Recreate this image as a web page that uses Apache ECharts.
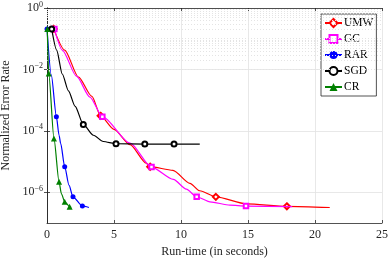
<!DOCTYPE html>
<html><head><meta charset="utf-8">
<script src="https://cdn.jsdelivr.net/npm/echarts@6/dist/echarts.min.js"></script>
<style>html,body{margin:0;padding:0;background:#fff}#c{width:390px;height:261px}</style>
</head><body><div id="c"></div>
<script>
// ---- data ----
const seriesNames = ['UMW', 'GC', 'RAR', 'SGD', 'CR'];

const umwTime = [0.5, 1.32, 2.35, 3.35, 4.0, 5.0, 6.2, 7.4, 7.7, 9.4, 10.67, 11.4, 12.6, 14.9, 17.9, 21.1];
const umwErr  = [0.209, 0.0427, 0.00562, 0.00132, 3.09e-4, 1.12e-4, 3.55e-5, 8.9e-6, 6.8e-6, 5.2e-6, 1.95e-6, 1.12e-6, 7.1e-7, 4.2e-7, 3.5e-7, 3.2e-7];
const umwMarks = [0, 4, 8, 12, 14];

const gcTime = [0.55, 1.14, 2.2, 3.2, 4.13, 6.2, 7.8, 9.43, 10.4, 11.17, 12.16, 13.66, 14.85, 18.3];
const gcErr  = [0.209, 0.0427, 0.00603, 0.00126, 2.9e-4, 3.98e-5, 6.6e-6, 2.63e-6, 1.26e-6, 7.1e-7, 4.9e-7, 3.8e-7, 3.55e-7, 3.4e-7];
const gcMarks = [0, 4, 6, 9, 12];

const rarTime = [0, 0.32, 0.7, 0.9, 1.02, 1.32, 1.64, 1.94, 2.64, 3.13];
const rarErr  = [0.209, 6.6e-3, 2.9e-4, 7.2e-5, 3.9e-5, 6.8e-6, 1.7e-6, 7.1e-7, 3.6e-7, 3.2e-7];
const rarMarks = [0, 2, 5, 7, 8];

const sgdTime = [0.35, 0.72, 1.14, 1.6, 2.1, 2.71, 3.46, 4.2, 5.15, 7.3, 9.48, 11.4];
const sgdErr  = [0.209, 0.0427, 7.1e-3, 2.0e-3, 6.3e-4, 1.62e-4, 7.2e-5, 4.5e-5, 3.8e-5, 3.7e-5, 3.7e-5, 3.7e-5];
const sgdMarks = [0, 5, 8, 9, 10];

const crTime = [0.02, 0.13, 0.52, 0.9, 1.07, 1.32, 1.69, 1.8];
const crErr  = [0.209, 7.4e-3, 5.6e-5, 2.2e-6, 9.1e-7, 4.9e-7, 3.4e-7, 3.2e-7];
const crMarks = [0, 1, 2, 3, 5, 6];

const xTicks = [0, 5, 10, 15, 20, 25];
const yTicks = [1, 1e-2, 1e-4, 1e-6];

// ---- build ----
const FONT = '"Liberation Serif", "DejaVu Serif", serif';
function build(t, e, marks) {
  return t.map((x, i) => marks.includes(i) ? [x, e[i]] : {value: [x, e[i]], symbol: 'none'});
}
const styles = [
  {color: '#ff0000', symbol: 'emptyDiamond', size: 6},
  {color: '#ff00ff', symbol: 'emptySquare', size: 4.5},
  {color: '#0000ff', symbol: 'circle', size: 5},
  {color: '#000000', symbol: 'emptyCircle', size: 5},
  {color: '#008000', symbol: 'triangle', size: 6}
];
const datas = [
  build(umwTime, umwErr, umwMarks),
  build(gcTime, gcErr, gcMarks),
  build(rarTime, rarErr, rarMarks),
  build(sgdTime, sgdErr, sgdMarks),
  build(crTime, crErr, crMarks)
];

// minor log grid lines
const minorLines = [];
for (let k = -7; k <= 0; k++) {
  for (let m = 1; m <= 9; m++) {
    const v = m * Math.pow(10, k);
    if (v >= 1 || (k === -7 && m === 1)) continue;
    if (m === 1 && k % 2 === 0) continue;
    minorLines.push({yAxis: v});
  }
}

function yLabel(v) {
  const ex = Math.round(Math.log10(v));
  return '{b|10}{e|' + String(ex).replace('-', '\u2212') + '}';
}

const series = seriesNames.map((n, i) => ({
  name: n, type: 'line', data: datas[i],
  symbol: styles[i].symbol, symbolSize: styles[i].size,
  showAllSymbol: true,
  smooth: 0.25, smoothMonotone: 'x',
  color: styles[i].color,
  lineStyle: {width: 1.2, color: styles[i].color},
  itemStyle: {color: styles[i].color, borderWidth: 1},
  z: 5 + i, animation: false
}));
series.push({
  type: 'line', data: [], silent: true, z: 1, animation: false,
  markLine: {silent: true, symbol: 'none', label: {show: false}, animation: false,
    lineStyle: {color: '#e4e4e4', type: [1, 2], width: 1}, data: minorLines}
});

const chart = echarts.init(document.getElementById('c'), null, {renderer: 'canvas'});
const axLine = {show: true, lineStyle: {color: '#262626', width: 0.8}};
const tick = (vals) => ({show: true, inside: true, length: 3, customValues: vals, lineStyle: {color: '#262626', width: 0.8}});
chart.setOption({
  animation: false,
  backgroundColor: '#fff',
  grid: {left: 47, right: 8, top: 8, bottom: 38, show: false, containLabel: false, outerBoundsMode: 'none'},
  legend: {
    orient: 'vertical', left: 321, top: 14,
    backgroundColor: '#fff', borderColor: '#262626', borderWidth: 0.8,
    padding: [3, 3, 3, 3], itemGap: 4, itemWidth: 17, itemHeight: 10,
    textStyle: {fontFamily: FONT, fontSize: 11.5, color: '#000', padding: [0, 0, 0, -3]},
    data: seriesNames
  },
  xAxis: [
    {type: 'value', min: 0, max: 25, interval: 5, position: 'bottom',
      name: 'Run-time (in seconds)', nameLocation: 'middle', nameGap: 22,
      nameTextStyle: {fontFamily: FONT, fontSize: 12, color: '#262626'},
      axisLine: axLine, axisTick: tick(xTicks),
      axisLabel: {fontFamily: FONT, fontSize: 12, color: '#262626', margin: 6, customValues: xTicks},
      splitLine: {show: true, lineStyle: {color: '#e2e2e2', width: 0.8}}},
    {type: 'value', min: 0, max: 25, interval: 5, position: 'top',
      axisLine: axLine, axisTick: tick(xTicks),
      axisLabel: {show: false}, splitLine: {show: false}}
  ],
  yAxis: [
    {type: 'log', logBase: 10, min: 1e-7, max: 1, position: 'left',
      name: 'Normalized Error Rate', nameLocation: 'middle', nameGap: 35,
      nameTextStyle: {fontFamily: FONT, fontSize: 12, color: '#262626'},
      axisLine: axLine, axisTick: tick(yTicks),
      axisLabel: {formatter: yLabel, margin: 4, customValues: yTicks,
        rich: {
          b: {fontFamily: FONT, fontSize: 12, color: '#262626'},
          e: {fontFamily: FONT, fontSize: 8, color: '#262626', verticalAlign: 'bottom', padding: [0, 0, 7, 0]}
        }},
      splitLine: {show: true, lineStyle: {color: '#e2e2e2', width: 0.8}}},
    {type: 'log', logBase: 10, min: 1e-7, max: 1, position: 'right',
      axisLine: axLine, axisTick: tick(yTicks),
      axisLabel: {show: false}, splitLine: {show: false}}
  ],
  series: series
});
</script>
</body></html>
